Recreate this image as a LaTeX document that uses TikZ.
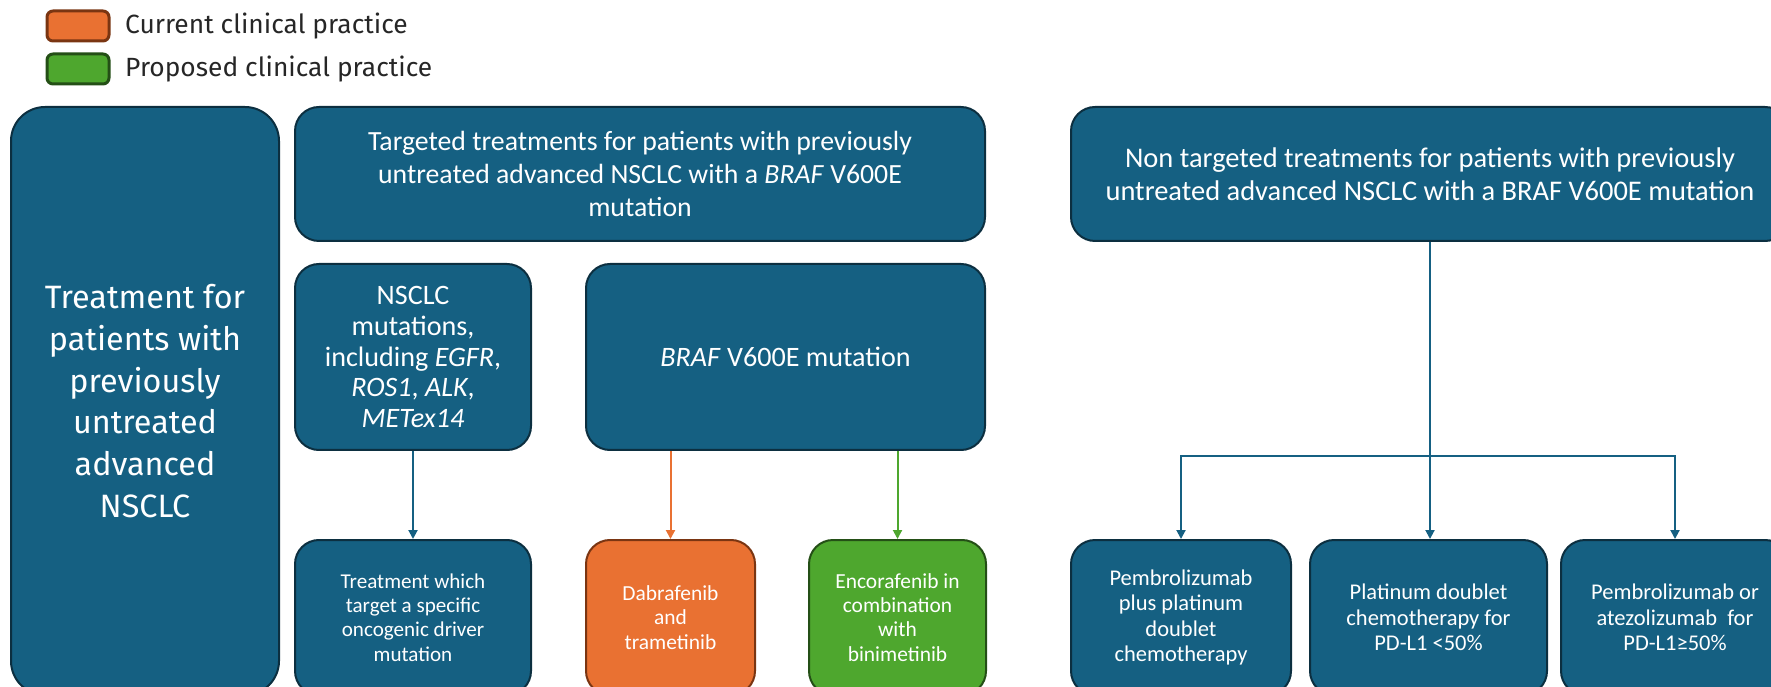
\documentclass[tikz,border=0pt]{standalone}
\usepackage{fontspec}
\setmainfont{Carlito}
\newfontfamily\widefont{Fira Sans}
\usepackage{tikz}
\usetikzlibrary{arrows.meta}
\usetikzlibrary{positioning}

\definecolor{boxblue}{HTML}{156082}
\definecolor{boxline}{HTML}{0C2F40}
\definecolor{curorange}{HTML}{E97132}
\definecolor{curline}{HTML}{7A3512}
\definecolor{propgreen}{HTML}{4EA72E}
\definecolor{propline}{HTML}{244F16}
\definecolor{legendtext}{HTML}{262626}

\begin{document}
\begin{tikzpicture}[x=0.1mm, y=-0.1mm]
	\useasboundingbox (0,0) rectangle (1771,687);
	\clip (0,0) rectangle (1771,687);

	% legend
	\begin{scope}[every node/.style = {draw, line width=0.3mm, rounded corners=0.6mm, minimum width=6.2mm, minimum height=3mm, inner sep=0pt}]
		\node[fill=curorange, draw=curline] (CurKey) at (78,26) {};
		\node[fill=propgreen, draw=propline] (PropKey) at (78,69) {};
	\end{scope}
	\begin{scope}[every node/.style = {text=legendtext, font=\widefont\fontsize{7.5}{9}\selectfont, inner sep=0pt}]
		\node[right=1.4mm of CurKey] (CurText) {Current clinical practice};
		\node[right=1.4mm of PropKey] (PropText) {Proposed clinical practice};
	\end{scope}

	% boxes
	\begin{scope}[every node/.style = {draw=boxline, fill=boxblue, line width=0.2mm, rounded corners=2.4mm, text=white, align=center, inner sep=0pt}]
		\node[minimum width=26.8mm, minimum height=58.8mm, rounded corners=3.4mm, font=\widefont\fontsize{9.2}{11.9}\selectfont] (Start) at (145,401) {Treatment for\\patients with\\previously\\untreated\\advanced\\NSCLC};
		\node[minimum width=69mm, minimum height=13.4mm, font=\fontsize{7.9}{9.4}\selectfont] (Target) at (640,174) {Targeted treatments for patients with previously\\untreated advanced NSCLC with a \textit{BRAF} V600E\\mutation};
		\node[minimum width=71.8mm, minimum height=13.4mm, font=\fontsize{8.1}{9.4}\selectfont] (NonTarget) at (1430,174) {Non targeted treatments for patients with previously\\untreated advanced NSCLC with a BRAF V600E mutation};
		\node[minimum width=23.6mm, minimum height=18.6mm, font=\fontsize{8}{8.8}\selectfont] (Other) at (413,357) {NSCLC\\mutations,\\including \textit{EGFR},\\\textit{ROS1}, \textit{ALK},\\\textit{METex14}};
		\node[minimum width=39.9mm, minimum height=18.6mm, font=\fontsize{8}{8.8}\selectfont] (Braf) at (785.5,357) {\textit{BRAF} V600E mutation};
		\node[minimum width=23.6mm, minimum height=15.5mm, font=\fontsize{6}{6.9}\selectfont] (Driver) at (413,617.5) {Treatment which\\target a specific\\oncogenic driver\\mutation};
		\node[fill=curorange, draw=curline, minimum width=16.9mm, minimum height=15.5mm, font=\fontsize{6.1}{6.9}\selectfont] (Dabra) at (670.5,617.5) {Dabrafenib\\and\\trametinib};
		\node[fill=propgreen, draw=propline, minimum width=17.7mm, minimum height=15.5mm, font=\fontsize{6.1}{6.9}\selectfont] (Enco) at (897.5,617.5) {Encorafenib in\\combination\\with\\binimetinib};
		\node[minimum width=22mm, minimum height=15.5mm, font=\fontsize{6.4}{7.3}\selectfont] (PembroChemo) at (1181,617.5) {Pembrolizumab\\plus platinum\\doublet\\chemotherapy};
		\node[minimum width=23.7mm, minimum height=15.5mm, font=\fontsize{6.4}{7.3}\selectfont] (Platinum) at (1428.5,617.5) {Platinum doublet\\chemotherapy for\\PD-L1 <50\%};
		\node[minimum width=22.8mm, minimum height=15.5mm, font=\fontsize{6.4}{7.3}\selectfont] (PembroAtezo) at (1675,617.5) {Pembrolizumab or\\atezolizumab\ \ for\\PD-L1≥50\%};
	\end{scope}

	\path (NonTarget.south) ++(0,214) coordinate (Fork);

	% connectors
	\begin{scope}[>={Triangle[width=0.9mm, length=0.9mm]},
			every edge/.style={draw=boxblue, line width=0.2mm}]
		\path [->] (Other) edge (Driver);
		\path [->] (Braf.south -| Dabra.north) edge[draw=curorange] (Dabra.north);
		\path [->] (Braf.south -| Enco.north) edge[draw=propgreen] (Enco.north);
		\path [->] (NonTarget.south) edge (NonTarget.south |- Platinum.north);
		\path [-, line cap=rect] (Fork -| PembroChemo.north) edge (Fork -| PembroAtezo.north);
		\path [->] (Fork -| PembroChemo.north) edge (PembroChemo.north);
		\path [->] (Fork -| PembroAtezo.north) edge (PembroAtezo.north);
	\end{scope}
\end{tikzpicture}
\end{document}
